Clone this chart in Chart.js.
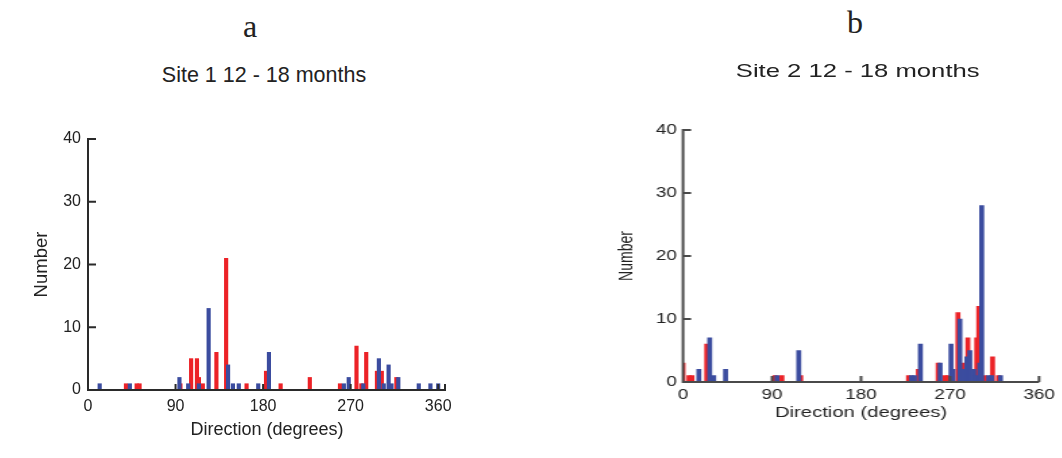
<!DOCTYPE html>
<html><head><meta charset="utf-8">
<script src="https://cdn.jsdelivr.net/npm/chart.js@4.4.1/dist/chart.umd.min.js"></script>
<style>
html,body{margin:0;padding:0;background:#fff;width:1062px;height:458px;overflow:hidden;position:relative;font-family:"Liberation Sans",Arial,sans-serif;color:#222}
.lbl{position:absolute;white-space:nowrap;transform:translate(-50%,-50%);line-height:1}
#wa{position:absolute;left:0;top:100px;width:531px;height:350px}
#wb{position:absolute;left:531px;top:0;width:393px;height:458px;transform:scaleX(1.35);transform-origin:0 0}
#hb{position:absolute;left:0;top:90px;width:393px;height:340px}
canvas{display:block}
</style></head><body>
<div class="lbl" style="left:250px;top:26px;font-family:'Liberation Serif',serif;font-size:32px">a</div>
<div class="lbl" style="left:855px;top:22px;font-family:'Liberation Serif',serif;font-size:32px">b</div>
<div class="lbl" style="left:264px;top:76px;font-size:21.5px">Site 1 12 - 18 months</div>
<div id="wa"><canvas id="ca" width="531" height="350"></canvas></div>
<div id="wb">
  <div class="lbl" style="left:242px;top:70px;font-size:19px">Site 2 12 - 18 months</div>
  <div id="hb"><canvas id="cb" width="393" height="340"></canvas></div>
</div>
<script>
// ---- data (direction in degrees, count) ----
const xTickLabels = [0, 90, 180, 270, 360];
const yTickLabels = [0, 10, 20, 30, 40];

const site1RedDir   = [39, 50, 53, 95, 106, 112, 114, 118, 132, 142, 163, 183, 198, 228, 259, 276, 281, 286, 297, 302, 317];
const site1RedCount = [1, 1, 1, 1, 5, 5, 2, 1, 6, 21, 1, 3, 1, 2, 1, 7, 1, 6, 3, 3, 2];
const site1BlueDir   = [12, 43, 94, 103, 114, 124, 144, 149, 155, 175, 186, 263, 268, 283, 299, 304, 309, 312, 319, 340, 352, 360];
const site1BlueCount = [1, 1, 2, 1, 1, 13, 4, 1, 1, 1, 6, 1, 2, 1, 5, 1, 4, 1, 2, 1, 1, 1];

const site2RedDir   = [0, 6, 9, 24, 93, 100, 119, 228, 238, 258, 265, 268, 278, 282, 288, 297, 299, 305, 313, 319];
const site2RedCount = [3, 1, 1, 6, 1, 1, 1, 1, 2, 3, 1, 1, 11, 3, 7, 7, 12, 1, 4, 1];
const site2BlueDir   = [16, 27, 31, 43, 95, 117, 231, 234, 240, 260, 271, 273, 280, 284, 287, 290, 294, 296, 300, 302, 309, 312, 321];
const site2BlueCount = [2, 7, 1, 2, 1, 5, 1, 1, 6, 3, 6, 2, 10, 2, 4, 5, 2, 1, 3, 28, 1, 1, 1];

const RED = '#EC2227';
const BLUE = '#3B4C9F';

const axesPlugin = {
  id: 'axes',
  afterDatasetsDraw(chart, args, opts) {
    const {ctx, chartArea: {left, right, bottom}, scales: {x, y}} = chart;
    ctx.save();
    ctx.strokeStyle = opts.color;
    ctx.lineWidth = opts.width;
    ctx.lineCap = 'butt';
    ctx.beginPath();
    const yTop = y.getPixelForValue(yTickLabels[yTickLabels.length - 1]);
    ctx.moveTo(left, yTop - opts.width / 2);
    ctx.lineTo(left, bottom);
    ctx.lineTo(right, bottom);
    yTickLabels.slice(1).forEach(v => {
      const py = y.getPixelForValue(v);
      ctx.moveTo(left, py); ctx.lineTo(left + opts.tickY, py);
    });
    const xt = xTickLabels.slice(1).map(v => x.getPixelForValue(v));
    if (opts.endTick) xt.push(right - opts.width / 2);
    xt.forEach(px => { ctx.moveTo(px, bottom); ctx.lineTo(px, bottom - opts.tickX); });
    ctx.stroke();
    ctx.restore();
  }
};

function makeChart(id, d, c) {
  return new Chart(document.getElementById(id), {
    type: 'bar',
    data: {
      datasets: [
        {label: 'blue', data: d.blueDir.map((v, i) => ({x: v, y: d.blueCount[i]})),
         backgroundColor: BLUE, barThickness: c.bar, grouped: false, order: 0},
        {label: 'red', data: d.redDir.map((v, i) => ({x: v, y: d.redCount[i]})),
         backgroundColor: RED, barThickness: c.bar, grouped: false, order: 1}
      ]
    },
    options: {
      responsive: false, animation: false, devicePixelRatio: 1,
      layout: {padding: {left: 0, right: c.padR, top: c.padT, bottom: 0}},
      plugins: {legend: {display: false}, tooltip: {enabled: false},
        axes: {color: c.axisColor, width: c.axisWidth, tickX: c.tickX, tickY: c.tickY, endTick: c.endTick}},
      scales: {
        x: {
          type: 'linear', min: 0, max: c.xmax, offset: false,
          grid: {display: false, drawTicks: false}, border: {display: false},
          afterBuildTicks: s => { s.ticks = xTickLabels.map(v => ({value: v})); },
          afterFit: s => { s.height = c.xh; },
          ticks: {color: '#222', padding: c.xTickPad, maxRotation: 0, autoSkip: false,
            font: {family: 'Liberation Sans', size: c.tickFont}},
          title: {display: true, text: 'Direction (degrees)', color: '#222',
            padding: {top: 0, bottom: c.xTitlePad}, font: {family: 'Liberation Sans', size: c.xTitleFont}}
        },
        y: {
          type: 'linear', min: 0, max: 40,
          grid: {display: false, drawTicks: false}, border: {display: false},
          afterBuildTicks: s => { s.ticks = yTickLabels.map(v => ({value: v})); },
          afterFit: s => { s.width = c.yw; },
          ticks: {color: '#222', padding: c.yTickPad, font: {family: 'Liberation Sans', size: c.tickFont}},
          title: {display: true, text: 'Number', color: '#222',
            padding: {top: c.yTitlePad, bottom: 0}, font: {family: 'Liberation Sans', size: c.yTitleFont}}
        }
      }
    },
    plugins: [axesPlugin]
  });
}

makeChart('ca',
  {redDir: site1RedDir, redCount: site1RedCount, blueDir: site1BlueDir, blueCount: site1BlueCount},
  {bar: 3.5, xmax: 368, padR: 85, padT: 39, xh: 60, yw: 88, xTickPad: 7, yTickPad: 7,
   tickFont: 16, xTitleFont: 18, yTitleFont: 18.5, xTitlePad: 9, yTitlePad: 31,
   axisColor: '#2a2a2a', axisWidth: 2, tickX: 6, tickY: 8, endTick: true});

makeChart('cb',
  {redDir: site2RedDir, redCount: site2RedCount, blueDir: site2BlueDir, blueCount: site2BlueCount},
  {bar: 3, xmax: 360, padR: 12.3, padT: 40, xh: 48, yw: 112.6, xTickPad: 5, yTickPad: 4.5,
   tickFont: 14, xTitleFont: 15, yTitleFont: 14, xTitlePad: 8, yTitlePad: 63,
   axisColor: '#4a4a4a', axisWidth: 2, tickX: 6, tickY: 6, endTick: false});
</script>
</body></html>
